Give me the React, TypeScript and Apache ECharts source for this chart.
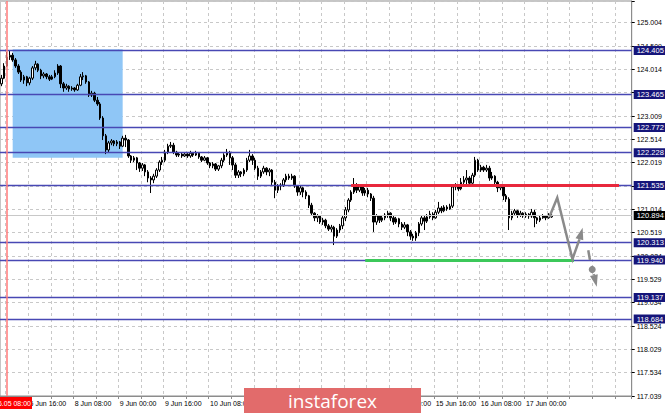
import React, { useEffect, useRef } from "react";
import * as echarts from "echarts";

// ---------- data ----------
const BAR_COUNT = 224; // bars visible on the chart (incl. empty future space)

// [open, close, low, high]
const ohlc: number[][] = [
  [123.70,123.82,123.65,123.89],[123.82,124.08,123.80,124.14],[124.08,124.27,124.06,124.38],[124.27,124.31,124.21,124.40],
  [124.31,124.21,124.17,124.36],[124.21,124.08,124.04,124.25],[124.08,123.95,123.91,124.12],[123.95,123.78,123.74,123.99],
  [123.78,123.85,123.70,123.89],[123.85,123.72,123.65,123.87],[123.72,123.82,123.67,123.85],[123.82,124.04,123.78,124.08],
  [124.04,124.12,123.99,124.19],[124.12,123.99,123.95,124.14],[123.99,123.87,123.80,124.02],[123.87,123.91,123.82,123.95],
  [123.91,123.85,123.80,123.93],[123.85,123.80,123.76,123.89],[123.80,123.85,123.78,123.89],[123.85,123.93,123.82,123.99],
  [123.93,124.08,123.89,124.12],[124.08,123.70,123.61,124.10],[123.70,123.61,123.53,123.74],[123.61,123.65,123.57,123.70],
  [123.65,123.59,123.53,123.67],[123.59,123.61,123.55,123.65],[123.61,123.57,123.53,123.63],[123.57,123.67,123.55,123.70],
  [123.67,123.85,123.65,123.91],[123.85,123.87,123.78,123.95],[123.87,123.74,123.70,123.89],[123.74,123.46,123.42,123.76],
  [123.46,123.50,123.42,123.55],[123.50,123.35,123.31,123.53],[123.35,123.27,123.23,123.42],[123.27,122.97,122.93,123.31],
  [122.97,122.59,122.50,123.01],[122.59,122.29,122.20,122.63],[122.29,122.44,122.24,122.48],[122.44,122.48,122.39,122.52],
  [122.48,122.42,122.37,122.50],[122.42,122.46,122.37,122.50],[122.46,122.37,122.31,122.48],[122.37,122.54,122.35,122.59],
  [122.54,122.50,122.35,122.61],[122.50,122.16,122.12,122.52],[122.16,122.07,122.01,122.18],[122.07,122.12,122.03,122.16],
  [122.12,122.01,121.86,122.14],[122.01,121.90,121.82,122.03],[121.90,121.97,121.84,122.01],[121.97,121.82,121.73,121.99],
  [121.82,121.69,121.60,121.86],[121.69,121.65,121.37,121.73],[121.65,121.73,121.58,121.78],[121.73,121.86,121.69,121.90],
  [121.86,122.03,121.82,122.07],[122.03,122.07,121.97,122.14],[122.07,122.24,122.03,122.29],[122.24,122.37,122.20,122.42],
  [122.37,122.39,122.33,122.46],[122.39,122.24,122.20,122.44],[122.24,122.18,122.14,122.27],[122.18,122.20,122.14,122.24],
  [122.20,122.16,122.12,122.24],[122.16,122.20,122.14,122.24],[122.20,122.16,122.12,122.22],[122.16,122.22,122.12,122.27],
  [122.22,122.18,122.14,122.24],[122.18,122.22,122.16,122.27],[122.22,122.14,122.10,122.24],[122.14,122.07,122.03,122.16],
  [122.07,122.12,122.05,122.16],[122.12,122.01,121.97,122.14],[122.01,121.95,121.90,122.03],[121.95,121.99,121.90,122.03],
  [121.99,121.88,121.84,122.01],[121.88,121.95,121.84,121.97],[121.95,122.07,121.90,122.12],[122.07,122.18,122.03,122.22],
  [122.18,122.24,122.14,122.31],[122.24,122.12,121.97,122.27],[122.12,121.97,121.86,122.16],[121.97,121.75,121.69,122.01],
  [121.75,121.82,121.69,121.86],[121.82,121.78,121.71,121.84],[121.78,121.86,121.73,121.90],[121.86,122.07,121.82,122.12],
  [122.07,122.16,122.03,122.29],[122.16,122.07,121.97,122.20],[122.07,121.90,121.86,122.12],[121.90,121.73,121.65,121.95],
  [121.73,121.82,121.69,121.86],[121.82,121.90,121.78,121.95],[121.90,121.82,121.75,121.92],[121.82,121.86,121.73,121.90],
  [121.86,121.60,121.52,121.88],[121.60,121.43,121.26,121.65],[121.43,121.52,121.37,121.56],[121.52,121.54,121.43,121.58],
  [121.54,121.65,121.50,121.69],[121.65,121.73,121.60,121.78],[121.73,121.69,121.65,121.78],[121.69,121.73,121.65,121.78],
  [121.73,121.52,121.48,121.75],[121.52,121.39,121.31,121.54],[121.39,121.48,121.33,121.52],[121.48,121.39,121.28,121.50],
  [121.39,121.31,121.24,121.43],[121.31,121.11,121.05,121.33],[121.11,120.94,120.88,121.16],[120.94,120.84,120.77,120.96],
  [120.84,120.88,120.75,120.92],[120.88,120.75,120.71,120.90],[120.75,120.79,120.69,120.84],[120.79,120.67,120.62,120.82],
  [120.67,120.60,120.56,120.71],[120.60,120.64,120.54,120.69],[120.64,120.45,120.26,120.67],[120.45,120.58,120.41,120.62],
  [120.58,120.67,120.52,120.71],[120.67,120.84,120.60,120.88],[120.84,121.01,120.77,121.07],[121.01,121.22,120.96,121.26],
  [121.22,121.39,121.18,121.43],[121.39,121.52,121.35,121.69],[121.52,121.43,121.37,121.58],[121.43,121.50,121.39,121.56],
  [121.50,121.37,121.31,121.52],[121.37,121.43,121.31,121.48],[121.43,121.35,121.28,121.48],[121.35,121.26,121.20,121.37],
  [121.26,120.75,120.54,121.31],[120.75,120.88,120.69,120.92],[120.88,120.79,120.73,120.90],[120.79,120.84,120.75,120.88],
  [120.84,120.90,120.79,120.94],[120.90,120.94,120.84,120.99],[120.94,120.84,120.77,120.96],[120.84,120.75,120.69,120.88],
  [120.75,120.82,120.71,120.86],[120.82,120.71,120.64,120.84],[120.71,120.64,120.58,120.75],[120.64,120.69,120.60,120.75],
  [120.69,120.54,120.45,120.71],[120.54,120.45,120.37,120.58],[120.45,120.41,120.35,120.50],[120.41,120.52,120.35,120.56],
  [120.52,120.71,120.45,120.75],[120.71,120.84,120.67,120.88],[120.84,120.77,120.58,120.88],[120.77,120.86,120.73,120.92],
  [120.86,120.92,120.82,120.99],[120.92,120.84,120.79,120.96],[120.84,120.96,120.82,121.01],[120.96,121.05,120.92,121.18],
  [121.05,120.99,120.94,121.09],[120.99,121.07,120.96,121.11],[121.07,121.03,120.99,121.11],[121.03,121.09,121.01,121.14],
  [121.09,121.50,121.05,121.54],[121.50,121.52,121.43,121.58],[121.52,121.46,121.41,121.56],[121.46,121.60,121.43,121.69],
  [121.60,121.65,121.56,121.73],[121.65,121.69,121.52,121.86],[121.69,121.58,121.54,121.73],[121.58,121.75,121.54,121.80],
  [121.75,122.07,121.71,122.14],[122.07,121.86,121.82,122.10],[121.86,121.92,121.82,121.97],[121.92,121.86,121.82,121.95],
  [121.86,121.90,121.82,121.97],[121.90,121.69,121.63,121.95],[121.69,121.73,121.65,121.82],[121.73,121.60,121.54,121.75],
  [121.60,121.48,121.39,121.63],[121.48,121.52,121.43,121.56],[121.52,121.31,121.22,121.54],[121.31,121.24,121.18,121.35],
  [121.24,120.84,120.58,121.28],[120.84,120.94,120.79,120.99],[120.94,120.99,120.88,121.03],[120.99,120.90,120.84,121.01],
  [120.90,120.94,120.86,120.99],[120.94,120.88,120.84,120.96],[120.88,120.92,120.84,120.96],[120.92,120.88,120.82,120.94],
  [120.88,120.96,120.84,121.03],[120.96,120.84,120.64,121.01],[120.84,120.79,120.71,120.86],[120.79,120.84,120.75,120.88],
  [120.84,120.88,120.82,120.92],[120.88,120.84,120.79,120.90],[120.84,120.90,120.82,120.94],[120.86,120.894,120.84,120.94],
];

const timeLabelIdx = [10, 26, 42, 58, 74, 90, 106, 122, 138, 154, 170, 186];
const timeLabels = [
  "5 Jun 16:00", "8 Jun 08:00", "9 Jun 00:00", "9 Jun 16:00", "10 Jun 08:00", "11 Jun 00:00",
  "11 Jun 16:00", "12 Jun 08:00", "15 Jun 00:00", "15 Jun 16:00", "16 Jun 08:00", "17 Jun 00:00",
];

const yTickLabels = [
  "117.039", "117.534", "118.029", "118.524", "119.034", "119.529", "120.024", "120.519", "121.014",
  "121.524", "122.019", "122.514", "123.009", "123.519", "124.014", "124.509", "125.004",
];
const PRICE_MIN = 117.039;
const PRICE_STEP = 0.4978125;
const PRICE_MAX = 125.467;

const levelLines = [124.405, 123.465, 122.772, 122.228, 121.535, 120.313, 119.94, 119.137, 118.684];
const lastPrice = 120.894;
const resistance = { from: 124, to: 219, price: 121.535 };
const support = { from: 129, to: 203, price: 119.94 };
const zone = { from: 4, to: 43, top: 124.436, bottom: 122.123 };
const markerBar = 2;
const markerLabel = "2020.06.05 08:00";

// projected path (bar index, price)
const projMain = [[194.3, 120.86], [197.1, 121.27], [202.5, 119.96], [204.9, 120.37], [206.1, 120.63]];
const projAltA = [[208.1, 120.15], [208.7, 119.94]];
const projAltDot = [209.5, 119.74];
const projAltB = [[210.0, 119.64], [211.1, 119.37]];

const FONT = "'Liberation Sans', Arial, sans-serif";

export default function App() {
  const ref = useRef<HTMLDivElement>(null);
  useEffect(() => {
    document.body.style.margin = "0";
    const chart = echarts.init(ref.current!, undefined, { renderer: "svg" });
    const categories = Array.from({ length: BAR_COUNT }, (_, i) => String(i));
    const labelAt = new Map<number, string>(timeLabelIdx.map((k, j) => [k, timeLabels[j]]));
    const idxMax = (PRICE_MAX - PRICE_MIN) / PRICE_STEP;

    const boxLabel = (v: number, bg: string) => ({
      show: true,
      position: "end",
      formatter: v.toFixed(3),
      backgroundColor: bg,
      color: "#ffffff",
      fontSize: 7.5,
      fontFamily: FONT,
      padding: [1, 3, 0, 3],
      distance: 2,
    });

    chart.setOption({
      animation: false,
      grid: { left: 0, right: 33, top: 1, bottom: 17, show: true, borderColor: "#8c8c8c", borderWidth: 1, backgroundColor: "#ffffff" },
      xAxis: {
        type: "category",
        data: categories,
        boundaryGap: true,
        axisLine: { show: true, lineStyle: { color: "#8c8c8c" } },
        axisTick: { show: true, interval: (i: number) => i % 8 === 2, length: 3, lineStyle: { color: "#8c8c8c" } },
        axisLabel: {
          interval: (i: number) => labelAt.has(i),
          formatter: (_v: string, i: number) => labelAt.get(i) ?? "",
          align: "left",
          fontSize: 7,
          color: "#000000",
          margin: 4,
          fontFamily: FONT,
        },
        splitLine: { show: true, interval: (i: number) => i % 8 === 2, lineStyle: { color: "#c8c8c8", type: [3, 3], width: 1 } },
      },
      yAxis: [
        { type: "value", min: PRICE_MIN, max: PRICE_MAX, show: false, splitLine: { show: false } },
        {
          type: "value",
          min: 0,
          max: idxMax,
          interval: 1,
          position: "right",
          axisLine: { show: true, lineStyle: { color: "#8c8c8c" } },
          axisTick: { show: true, length: 3, lineStyle: { color: "#000000" } },
          axisLabel: {
            formatter: (v: number) => (Math.abs(v - Math.round(v)) < 1e-6 ? yTickLabels[Math.round(v)] ?? "" : ""),
            fontSize: 7,
            color: "#000000",
            margin: 5,
            fontFamily: FONT,
          },
          splitLine: { show: true, lineStyle: { color: "#c8c8c8", type: [3, 3], width: 1 } },
        },
      ],
      series: [
        {
          type: "candlestick",
          data: ohlc,
          yAxisIndex: 0,
          barWidth: 2,
          itemStyle: { color: "#ffffff", color0: "#000000", borderColor: "#000000", borderColor0: "#000000", borderWidth: 1 },
          markArea: {
            silent: true,
            itemStyle: { color: "#8fc6f6" },
            data: [[{ coord: [zone.from, zone.top] }, { coord: [zone.to, zone.bottom] }]],
          },
          markLine: {
            silent: true,
            symbol: ["none", "none"],
            animation: false,
            data: [
              { yAxis: lastPrice, lineStyle: { color: "#c8c8c8", width: 1, type: "solid" }, label: boxLabel(lastPrice, "#000000") },
              ...levelLines.map((v) => ({
                yAxis: v,
                lineStyle: { color: "#4848b4", width: 1.3, type: "solid" },
                label: boxLabel(v, "#15157a"),
              })),
              [
                { coord: [resistance.from, resistance.price], lineStyle: { color: "#e8283c", width: 3, type: "solid" }, label: { show: false } },
                { coord: [resistance.to, resistance.price], lineStyle: { color: "#e8283c", width: 3, type: "solid" }, label: { show: false } },
              ],
              [
                { coord: [support.from, support.price], lineStyle: { color: "#3cc85a", width: 3, type: "solid" }, label: { show: false } },
                { coord: [support.to, support.price], lineStyle: { color: "#3cc85a", width: 3, type: "solid" }, label: { show: false } },
              ],
              { xAxis: markerBar, lineStyle: { color: "#ff7a7a", width: 1.5, type: "solid" }, label: { show: false } },
            ],
          },
        },
      ],
    });

    const toPx = (x: number, y: number) => {
      const i0 = Math.floor(x);
      const f = x - i0;
      const a = chart.convertToPixel({ seriesIndex: 0 }, [i0, y]) as number[];
      const b = chart.convertToPixel({ seriesIndex: 0 }, [i0 + 1, y]) as number[];
      return [a[0] + (b[0] - a[0]) * f, a[1]];
    };
    const head = (p: number[], t: number[], len: number, half: number) => {
      const dx = t[0] - p[0];
      const dy = t[1] - p[1];
      const d = Math.hypot(dx, dy) || 1;
      const ux = dx / d;
      const uy = dy / d;
      const bx = t[0] - ux * len;
      const by = t[1] - uy * len;
      return {
        base: [bx, by],
        tri: [t, [bx - uy * half, by + ux * half], [bx + uy * half, by - ux * half]],
      };
    };

    const gray = "#8a8a8a";
    const mainPts = projMain.map(([x, y]) => toPx(x, y));
    const h1 = head(mainPts[mainPts.length - 2], mainPts[mainPts.length - 1], 12, 4);
    const mainLine = [...mainPts.slice(0, -1), h1.base];
    const a0 = toPx(projAltA[0][0], projAltA[0][1]);
    const a1 = toPx(projAltA[1][0], projAltA[1][1]);
    const dot = toPx(projAltDot[0], projAltDot[1]);
    const b0 = toPx(projAltB[0][0], projAltB[0][1]);
    const b1 = toPx(projAltB[1][0], projAltB[1][1]);
    const h2 = head(b0, b1, 12, 4);

    chart.setOption({
      graphic: [
        { type: "polyline", shape: { points: mainLine }, style: { stroke: gray, lineWidth: 2.5, fill: "none" }, z: 50 },
        { type: "polygon", shape: { points: h1.tri }, style: { fill: gray }, z: 50 },
        { type: "line", shape: { x1: a0[0], y1: a0[1], x2: a1[0], y2: a1[1] }, style: { stroke: gray, lineWidth: 2.5 }, z: 50 },
        { type: "circle", shape: { cx: dot[0], cy: dot[1], r: 3.5 }, style: { fill: gray }, z: 50 },
        { type: "line", shape: { x1: b0[0], y1: b0[1], x2: h2.base[0], y2: h2.base[1] }, style: { stroke: gray, lineWidth: 2.5 }, z: 50 },
        { type: "polygon", shape: { points: h2.tri }, style: { fill: gray }, z: 50 },
        { type: "rect", shape: { x: 0, y: 397, width: 32, height: 12 }, style: { fill: "#ff0000" }, z: 60 },
        {
          type: "text",
          style: { text: markerLabel, x: 31, y: 403, align: "right", verticalAlign: "middle", fill: "#ffffff", fontSize: 7, fontFamily: FONT },
          z: 61,
        },
        { type: "rect", shape: { x: 244, y: 388, width: 177, height: 25 }, style: { fill: "#e26b6b" }, z: 70 },
        {
          type: "text",
          style: {
            text: "instaforex",
            x: 332.5,
            y: 400.5,
            align: "center",
            verticalAlign: "middle",
            fill: "#ffffff",
            fontSize: 19,
            fontFamily: "'Open Sans', 'Noto Sans', sans-serif",
          },
          z: 71,
        },
      ],
    });

    return () => chart.dispose();
  }, []);

  return <div ref={ref} style={{ width: 665, height: 413 }} />;
}
